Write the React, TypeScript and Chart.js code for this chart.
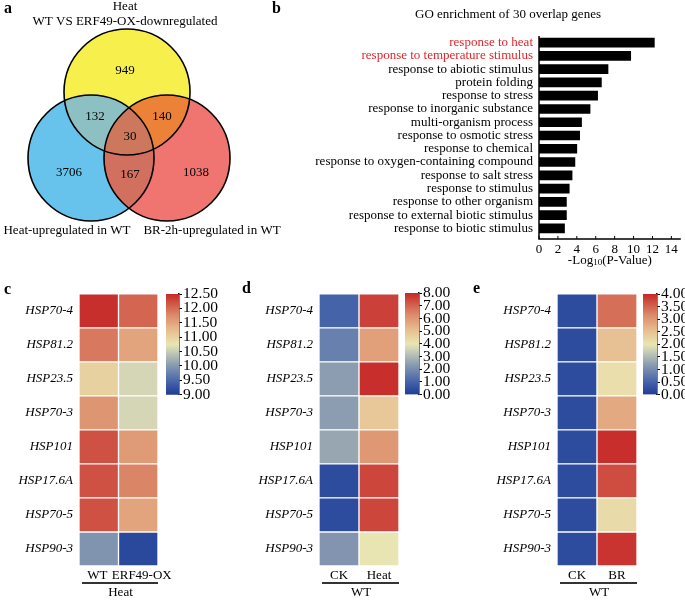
import React, { useEffect, useRef } from "react";
import { Chart, registerables } from "chart.js";
Chart.register(...registerables);

if (typeof document !== "undefined") document.body.style.margin = "0";

const SERIF = '"Liberation Serif", "Times New Roman", serif';
const RED = "#e0262c";

// ---------- Panel a: Venn ----------
const vennTitleLines = ["Heat", "WT VS ERF49-OX-downregulated"];
const vennSetLabels = ["Heat-upregulated in WT", "BR-2h-upregulated in WT"];
const vennRegions = ["Y", "YB", "YR", "YBR", "B", "BR", "R"];
const vennCounts = [949, 132, 140, 30, 3706, 167, 1038];

// ---------- Panel b: GO enrichment ----------
const goTitle = "GO enrichment of 30 overlap genes";
const goTerms = [
  "response to heat",
  "response to temperature stimulus",
  "response to abiotic stimulus",
  "protein folding",
  "response to stress",
  "response to inorganic substance",
  "multi-organism process",
  "response to osmotic stress",
  "response to chemical",
  "response to oxygen-containing compound",
  "response to salt stress",
  "response to stimulus",
  "response to other organism",
  "response to external biotic stimulus",
  "response to biotic stimulus",
];
const goLog10P = [12.2, 9.7, 7.3, 6.6, 6.2, 5.4, 4.5, 4.3, 4.0, 3.8, 3.5, 3.2, 2.9, 2.9, 2.7];
const goHighlighted = ["response to heat", "response to temperature stimulus"];
const goTicks = [0, 2, 4, 6, 8, 10, 12, 14];

// ---------- Panels c, d, e: heatmaps ----------
const hspGenes = ["HSP70-4", "HSP81.2", "HSP23.5", "HSP70-3", "HSP101", "HSP17.6A", "HSP70-5", "HSP90-3"];

const cColumns = ["WT", "ERF49-OX"];
const cGroup = "Heat";
const cWT = [12.45, 11.9, 11.0, 11.65, 12.2, 12.2, 12.2, 9.95];
const cOX = [12.05, 11.5, 10.6, 10.6, 11.6, 11.8, 11.5, 9.15];
const cScaleTicks = [9, 9.5, 10, 10.5, 11, 11.5, 12, 12.5];

const dColumns = ["CK", "Heat"];
const dGroup = "WT";
const dCK = [1.0, 1.7, 2.4, 2.4, 2.6, 0.4, 0.4, 2.2];
const dHeat = [7.6, 5.8, 7.9, 4.8, 6.0, 7.5, 7.5, 4.0];
const dScaleTicks = [0, 1, 2, 3, 4, 5, 6, 7, 8];

const eColumns = ["CK", "BR"];
const eGroup = "WT";
const eCK = [0.2, 0.2, 0.2, 0.2, 0.2, 0.2, 0.2, 0.2];
const eBR = [3.4, 2.5, 2.1, 2.8, 3.95, 3.7, 2.15, 3.9];
const eScaleTicks = [0, 0.5, 1, 1.5, 2, 2.5, 3, 3.5, 4];

// ---------- styles ----------
const cmapStops: [number, string][] = [
  [0, "#1e3c96"],
  [0.14, "#4a68aa"],
  [0.29, "#8899b0"],
  [0.43, "#c8cdb8"],
  [0.5, "#e9e5b2"],
  [0.64, "#e7bd8f"],
  [0.79, "#dc8a6a"],
  [0.9, "#d05848"],
  [1, "#c62828"],
];
function hexRgb(h: string) {
  const n = parseInt(h.slice(1), 16);
  return [(n >> 16) & 255, (n >> 8) & 255, n & 255];
}
function cmap(t: number) {
  t = Math.max(0, Math.min(1, t));
  for (let i = 1; i < cmapStops.length; i++) {
    const [t1, c1] = cmapStops[i];
    const [t0, c0] = cmapStops[i - 1];
    if (t <= t1) {
      const f = (t - t0) / (t1 - t0);
      const a = hexRgb(c0), b = hexRgb(c1);
      const r = a.map((v, k) => Math.round(v + (b[k] - v) * f));
      return `rgb(${r[0]},${r[1]},${r[2]})`;
    }
  }
  return cmapStops[cmapStops.length - 1][1];
}

const vennCircles = [
  { key: "Y", x: 127, y: 92, r: 63, color: "#f7ef4b" },
  { key: "B", x: 91, y: 158, r: 63, color: "#67c3ec" },
  { key: "R", x: 167, y: 158, r: 63, color: "#f07571" },
];
const vennOverlapColors = { YB: "#8cc0c3", YR: "#eb8238", BR: "#d2705f", YBR: "#cd785c" };
const vennLabelPos = [
  [125, 71],
  [95, 117],
  [162, 117],
  [130, 137],
  [69, 173],
  [130, 175],
  [196, 173],
];

type TextItem = {
  text: string;
  x: number;
  y: number;
  size?: number;
  bold?: boolean;
  italic?: boolean;
  color?: string;
  align?: CanvasTextAlign;
};
function drawText(ctx: CanvasRenderingContext2D, t: TextItem) {
  ctx.save();
  ctx.font = `${t.italic ? "italic " : ""}${t.bold ? "bold " : ""}${t.size || 14}px ${SERIF}`;
  ctx.fillStyle = t.color || "#000";
  ctx.textAlign = t.align || "center";
  ctx.textBaseline = "middle";
  ctx.fillText(t.text, t.x, t.y);
  ctx.restore();
}
function textPlugin(items: TextItem[]) {
  return {
    id: "texts",
    afterDraw(chart: any) {
      items.forEach((t) => drawText(chart.ctx, t));
    },
  };
}

// ---------- chart configs ----------
function vennConfig() {
  const vennPlugin = {
    id: "venn",
    beforeDatasetsDraw(chart: any) {
      const { ctx } = chart;
      const xs = chart.scales.x, ys = chart.scales.y;
      const P: Record<string, { px: number; py: number; pr: number; color: string }> = {};
      vennCircles.forEach((c) => {
        P[c.key] = {
          px: xs.getPixelForValue(c.x),
          py: ys.getPixelForValue(c.y),
          pr: xs.getPixelForValue(c.r) - xs.getPixelForValue(0),
          color: c.color,
        };
      });
      const path = (k: string) => {
        const c = P[k];
        ctx.beginPath();
        ctx.arc(c.px, c.py, c.pr, 0, Math.PI * 2);
      };
      const fillIn = (clips: string[], k: string, color: string) => {
        ctx.save();
        clips.forEach((cl) => {
          path(cl);
          ctx.clip();
        });
        path(k);
        ctx.fillStyle = color;
        ctx.fill();
        ctx.restore();
      };
      ["Y", "B", "R"].forEach((k) => fillIn([], k, P[k].color));
      fillIn(["Y"], "B", vennOverlapColors.YB);
      fillIn(["Y"], "R", vennOverlapColors.YR);
      fillIn(["B"], "R", vennOverlapColors.BR);
      fillIn(["Y", "B"], "R", vennOverlapColors.YBR);
      ctx.save();
      ctx.strokeStyle = "#000";
      ctx.lineWidth = 1.6;
      ["Y", "B", "R"].forEach((k) => {
        path(k);
        ctx.stroke();
      });
      ctx.restore();
    },
    afterDatasetsDraw(chart: any) {
      const meta = chart.getDatasetMeta(0);
      meta.data.forEach((pt: any, i: number) => {
        drawText(chart.ctx, { text: String(vennCounts[i]), x: pt.x, y: pt.y, size: 13 });
      });
    },
  };
  return {
    type: "scatter",
    data: {
      datasets: [
        {
          label: "regions",
          data: vennRegions.map((_, i) => ({ x: vennLabelPos[i][0], y: vennLabelPos[i][1] })),
          pointRadius: 0,
        },
      ],
    },
    options: {
      animation: false,
      responsive: false,
      layout: { padding: 0 },
      plugins: { legend: { display: false }, tooltip: { enabled: false } },
      scales: {
        x: { type: "linear", min: 0, max: 290, display: false },
        y: { type: "linear", min: 0, max: 250, reverse: true, display: false },
      },
    },
    plugins: [
      vennPlugin,
      textPlugin([
        { text: "a", x: 4, y: 9, size: 16, bold: true, align: "left" },
        { text: "b", x: 272, y: 9, size: 16, bold: true, align: "left" },
        { text: vennTitleLines[0], x: 125, y: 7, size: 13 },
        { text: vennTitleLines[1], x: 125, y: 22, size: 13 },
        { text: vennSetLabels[0], x: 67, y: 231, size: 13 },
        { text: vennSetLabels[1], x: 212, y: 231, size: 13 },
      ]),
    ],
  };
}

function goConfig() {
  const axisPlugin = {
    id: "goAxis",
    afterDraw(chart: any) {
      const { ctx } = chart;
      const { left, right, top, bottom } = chart.chartArea;
      const yb = bottom + 4;
      ctx.save();
      ctx.strokeStyle = "#000";
      ctx.lineWidth = 1.5;
      ctx.beginPath();
      ctx.moveTo(left, top);
      ctx.lineTo(left, yb);
      ctx.lineTo(right, yb);
      ctx.stroke();
      ctx.lineWidth = 1;
      goTicks.forEach((v) => {
        const x = chart.scales.x.getPixelForValue(v);
        ctx.beginPath();
        ctx.moveTo(x, yb);
        ctx.lineTo(x, yb - 3);
        ctx.stroke();
      });
      // axis title with subscript
      const cx = (left + right) / 2;
      const y = 261;
      ctx.textBaseline = "middle";
      ctx.fillStyle = "#000";
      const f1 = `13px ${SERIF}`, f2 = `9px ${SERIF}`;
      const parts = [
        { t: "-Log", f: f1, dy: 0 },
        { t: "10", f: f2, dy: 2 },
        { t: "(P-Value)", f: f1, dy: 0 },
      ];
      let w = 0;
      parts.forEach((p) => {
        ctx.font = p.f;
        w += ctx.measureText(p.t).width;
      });
      let x = cx - w / 2;
      ctx.textAlign = "left";
      parts.forEach((p) => {
        ctx.font = p.f;
        ctx.fillText(p.t, x, y + p.dy);
        x += ctx.measureText(p.t).width;
      });
      ctx.restore();
    },
  };
  return {
    type: "bar",
    data: {
      labels: goTerms,
      datasets: [{ data: goLog10P, backgroundColor: "#000", barThickness: 9 }],
    },
    options: {
      animation: false,
      responsive: false,
      indexAxis: "y",
      layout: { padding: { top: 36, right: 2, left: 0, bottom: 0 } },
      plugins: { legend: { display: false }, tooltip: { enabled: false } },
      scales: {
        x: {
          type: "linear",
          min: 0,
          max: 15,
          afterBuildTicks: (a: any) => {
            a.ticks = goTicks.map((v) => ({ value: v }));
          },
          grid: { display: false, drawTicks: false },
          border: { display: false },
          ticks: { font: { family: SERIF, size: 13 }, color: "#000", padding: 7, maxRotation: 0, autoSkip: false },
          afterFit: (s: any) => {
            s.height = 35;
          },
        },
        y: {
          grid: { display: false, drawTicks: false },
          border: { display: false },
          ticks: {
            font: { family: SERIF, size: 13 },
            color: (c: any) => (goHighlighted.includes(goTerms[c.index]) ? RED : "#000"),
            padding: 6,
            autoSkip: false,
          },
          afterFit: (s: any) => {
            s.width = 249;
          },
        },
      },
    },
    plugins: [axisPlugin, textPlugin([{ text: goTitle, x: 218, y: 15, size: 13 }])],
  };
}

function heatmapConfig(
  columns: string[],
  colValues: number[][],
  min: number,
  max: number,
  group: string,
  yWidth: number,
  pad: { top: number; right: number },
  letter: TextItem,
  labelShift: number[]
) {
  const n = hspGenes.length;
  const datasets = [];
  for (let i = 0; i < n; i++) {
    const r = n - 1 - i;
    datasets.push({
      label: hspGenes[r],
      data: columns.map(() => 1),
      backgroundColor: columns.map((_, c) => cmap((colValues[c][r] - min) / (max - min))),
      borderColor: "#ffffff",
      borderWidth: 1,
      borderSkipped: false,
      barPercentage: 1,
      categoryPercentage: 1,
    });
  }
  const groupPlugin = {
    id: "group",
    afterDraw(chart: any) {
      const { ctx } = chart;
      const { left, right, bottom } = chart.chartArea;
      const xs = chart.scales.x;
      columns.forEach((c, i) => {
        drawText(ctx, { text: c, x: xs.getPixelForValue(i) + labelShift[i], y: bottom + 10, size: 13 });
      });
      ctx.save();
      ctx.strokeStyle = "#333";
      ctx.lineWidth = 2;
      ctx.beginPath();
      ctx.moveTo(left + 3, bottom + 17);
      ctx.lineTo(right, bottom + 17);
      ctx.stroke();
      ctx.restore();
      drawText(ctx, { text: group, x: (left + right) / 2 + 2, y: bottom + 27, size: 13 });
    },
  };
  return {
    type: "bar",
    data: { labels: columns, datasets },
    options: {
      animation: false,
      responsive: false,
      layout: { autoPadding: false, padding: { top: pad.top, right: pad.right, left: 0, bottom: 0 } },
      plugins: { legend: { display: false }, tooltip: { enabled: false } },
      scales: {
        x: {
          stacked: true,
          grid: { display: false, drawTicks: false },
          border: { display: false },
          ticks: { display: false },
          afterFit: (s: any) => {
            s.height = 35;
          },
        },
        y: {
          stacked: true,
          type: "linear",
          min: 0,
          max: n,
          afterBuildTicks: (a: any) => {
            a.ticks = hspGenes.map((_, i) => ({ value: i + 0.5 }));
          },
          grid: { display: false, drawTicks: false },
          border: { display: false },
          ticks: {
            font: { family: SERIF, size: 13, style: "italic" },
            color: "#000",
            padding: 6,
            autoSkip: false,
            callback: (_v: any, idx: number) => hspGenes[n - 1 - idx],
          },
          afterFit: (s: any) => {
            s.width = yWidth;
          },
        },
      },
    },
    plugins: [groupPlugin, textPlugin([letter])],
  };
}

function colorbarConfig(ticks: number[], axisWidth: number, pad: { left: number; top: number; bottom: number }) {
  const min = ticks[0], max = ticks[ticks.length - 1];
  return {
    type: "bar",
    data: {
      labels: ["scale"],
      datasets: [
        {
          data: [[min, max]],
          backgroundColor: (c: any) => {
            const ca = c.chart.chartArea;
            if (!ca) return "#888";
            const g = c.chart.ctx.createLinearGradient(0, ca.bottom, 0, ca.top);
            cmapStops.forEach(([t, col]) => g.addColorStop(t, col));
            return g;
          },
          barPercentage: 1,
          categoryPercentage: 1,
          borderWidth: 0,
        },
      ],
    },
    options: {
      animation: false,
      responsive: false,
      layout: { autoPadding: false, padding: { top: pad.top, left: pad.left, bottom: pad.bottom, right: 0 } },
      plugins: { legend: { display: false }, tooltip: { enabled: false } },
      scales: {
        x: { display: false },
        y: {
          position: "right",
          type: "linear",
          min,
          max,
          afterBuildTicks: (a: any) => {
            a.ticks = ticks.map((v) => ({ value: v }));
          },
          ticks: {
            font: { family: SERIF, size: 15.5 },
            color: "#000",
            padding: 1,
            autoSkip: false,
            callback: (v: any) => Number(v).toFixed(2),
          },
          grid: { drawOnChartArea: false, drawTicks: true, tickLength: 3, color: "#000", lineWidth: 1 },
          border: { display: true, color: "#000", width: 1.5 },
          afterFit: (s: any) => {
            s.width = axisWidth;
          },
        },
      },
    },
  };
}

function ChartBox({ left, top, width, height, make }: any) {
  const ref = useRef<HTMLCanvasElement>(null);
  useEffect(() => {
    const chart = new Chart(ref.current as HTMLCanvasElement, make());
    return () => chart.destroy();
  }, []);
  return (
    <canvas
      ref={ref}
      width={width}
      height={height}
      style={{ position: "absolute", left, top, width, height, display: "block" }}
    />
  );
}

export default function App() {
  return (
    <div style={{ position: "relative", width: 685, height: 601, background: "#fff", overflow: "hidden" }}>
      <ChartBox left={0} top={0} width={290} height={250} make={vennConfig} />
      <ChartBox left={290} top={0} width={395} height={270} make={goConfig} />
      <ChartBox
        left={0}
        top={280}
        width={180}
        height={321}
        make={() =>
          heatmapConfig(cColumns, [cWT, cOX], 9, 12.5, cGroup, 79, { top: 12, right: 22 }, {
            text: "c", x: 4, y: 10, size: 16, bold: true, align: "left",
          }, [-1.5, 3.5])
        }
      />
      <ChartBox left={160} top={280} width={65} height={125} make={() => colorbarConfig(cScaleTicks, 46, { left: 6, top: 14, bottom: 8 })} />
      <ChartBox
        left={230}
        top={280}
        width={175}
        height={321}
        make={() =>
          heatmapConfig(dColumns, [dCK, dHeat], 0, 8, dGroup, 89, { top: 13, right: 6 }, {
            text: "d", x: 12, y: 9, size: 16, bold: true, align: "left",
          }, [0, 0])
        }
      />
      <ChartBox left={398} top={280} width={62} height={125} make={() => colorbarConfig(dScaleTicks, 41, { left: 7, top: 13, bottom: 6 })} />
      <ChartBox
        left={460}
        top={280}
        width={180}
        height={321}
        make={() =>
          heatmapConfig(eColumns, [eCK, eBR], 0, 4, eGroup, 97, { top: 13, right: 3 }, {
            text: "e", x: 13, y: 9, size: 16, bold: true, align: "left",
          }, [0, 0])
        }
      />
      <ChartBox left={636} top={280} width={49} height={125} make={() => colorbarConfig(eScaleTicks, 28, { left: 7, top: 14, bottom: 6 })} />
    </div>
  );
}
